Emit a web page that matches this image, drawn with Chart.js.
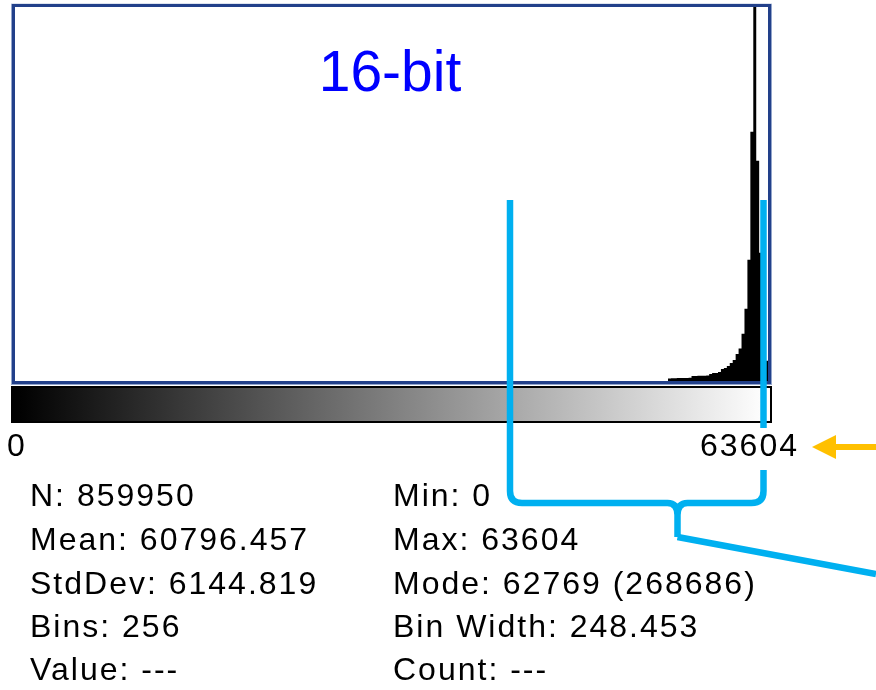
<!DOCTYPE html>
<html>
<head>
<meta charset="utf-8">
<title>16-bit histogram</title>
<script src="https://cdn.jsdelivr.net/npm/chart.js@4.4.1/dist/chart.umd.min.js"></script>
<style>
  html, body { margin: 0; padding: 0; background: #ffffff; }
  #wrap { width: 876px; height: 690px; position: relative; }
</style>
</head>
<body>
<div id="wrap"><canvas id="hist" width="876" height="690"></canvas></div>
<script>
// Histogram of a 16-bit image: 256 bins spanning 0 .. 63604
const nBins = 256;
const histMin = 0;
const histMax = 63604;

// Occupied bins (all lower bins are empty at this scale)
const binIndex = [222, 223, 224, 225, 226, 227, 228, 229, 230, 231, 232, 233, 234, 235, 236, 237, 238,
                  239, 240, 241, 242, 243, 244, 245, 246, 247, 248, 249, 250, 251, 252, 253, 254, 255];
const binCounts = [1400, 1400, 1500, 1500, 1600, 1600, 1700, 1700, 1800, 2700, 2700, 2800, 2800, 2900, 3000, 3800, 4300,
                   4400, 4900, 6500, 7100, 8200, 9800, 11400, 14700, 17700, 25800, 39400, 66100, 136000, 268686, 120200, 70000, 11000];

// Statistics panel
const statsLeft = ["N: 859950", "Mean: 60796.457", "StdDev: 6144.819", "Bins: 256", "Value: ---"];
const statsRight = ["Min: 0", "Max: 63604", "Mode: 62769 (268686)", "Bin Width: 248.453", "Count: ---"];
const rangeLabels = ["0", "63604"];
const title = "16-bit";

// Like ImageJ, scale to 1.5x the second-highest bin when the mode bin dominates
const sortedCounts = binCounts.slice().sort((a, b) => b - a);
const yMax = sortedCounts[1] * 1.5;

// Step outline: each bin starts at its left edge; the last bin closes at nBins
const stepPoints = binIndex.map((b, i) => ({ x: b, y: binCounts[i] }));
stepPoints.push({ x: nBins, y: binCounts[binCounts.length - 1] });

const FONT = '"Liberation Sans", Arial, sans-serif';

const overlay = {
  id: 'overlay',
  beforeDraw(chart) {
    const ctx = chart.ctx;
    ctx.save();
    ctx.fillStyle = '#ffffff';
    ctx.fillRect(0, 0, chart.width, chart.height);
    ctx.restore();
  },
  afterDraw(chart) {
    const ctx = chart.ctx;
    const xs = chart.scales.x;
    const left = xs.getPixelForValue(0);
    const right = xs.getPixelForValue(nBins);
    const area = chart.chartArea;
    ctx.save();

    // plot frame: light outer line + dark blue band
    ctx.strokeStyle = '#93a5cb';
    ctx.lineWidth = 1;
    ctx.strokeRect(left - 3.5, area.top - 2.8, right - left + 7, area.bottom - area.top + 6.3);
    ctx.strokeStyle = '#22408a';
    ctx.lineWidth = 3;
    ctx.strokeRect(left - 1.5, area.top - 1.5, right - left + 3, area.bottom - area.top + 3);

    // grey-scale LUT bar
    const barTop = 387, barH = 35;
    const g = ctx.createLinearGradient(left, 0, right, 0);
    g.addColorStop(0, '#000000');
    g.addColorStop(1, '#ffffff');
    ctx.fillStyle = g;
    ctx.fillRect(left - 4, barTop, right - left + 7, barH);
    ctx.strokeStyle = '#000000';
    ctx.lineWidth = 2;
    ctx.strokeRect(left - 3, barTop, right - left + 6, barH);

    // title
    ctx.fillStyle = '#0000ff';
    ctx.font = '57px ' + FONT;
    ctx.textAlign = 'center';
    ctx.textBaseline = 'alphabetic';
    ctx.fillText(title, 390, 91);

    // annotation bracket (drawn beneath the range label)
    ctx.strokeStyle = '#00b0f0';
    ctx.lineWidth = 6.5;
    ctx.lineCap = 'butt';
    ctx.lineJoin = 'round';
    const xl = 510, xr = 763.5, yh = 503, tipX = 677.5, tipY = 537;
    ctx.beginPath();
    ctx.moveTo(xr, 200);
    ctx.lineTo(xr, 428);
    ctx.stroke();
    ctx.beginPath();
    ctx.moveTo(xl, 200);
    ctx.lineTo(xl, yh - 12);
    ctx.quadraticCurveTo(xl, yh, xl + 12, yh);
    ctx.lineTo(tipX - 10, yh);
    ctx.quadraticCurveTo(tipX, yh, tipX, yh + 12);
    ctx.lineTo(tipX, tipY);
    ctx.moveTo(tipX, yh + 12);
    ctx.quadraticCurveTo(tipX, yh, tipX + 10, yh);
    ctx.lineTo(xr - 12, yh);
    ctx.quadraticCurveTo(xr, yh, xr, yh - 12);
    ctx.lineTo(xr, 470);
    ctx.stroke();
    ctx.beginPath();
    ctx.moveTo(tipX, tipY);
    ctx.lineTo(876, 574);
    ctx.stroke();

    // range labels under the LUT bar
    ctx.fillStyle = '#000000';
    ctx.font = '32px ' + FONT;
    ctx.letterSpacing = '2px';
    ctx.textAlign = 'left';
    ctx.fillText(rangeLabels[0], 7, 456);
    ctx.textAlign = 'right';
    ctx.fillText(rangeLabels[1], 799, 456);

    // statistics
    ctx.textAlign = 'left';
    const rows = [506, 550, 594, 637, 680];
    statsLeft.forEach((t, i) => ctx.fillText(t, 30, rows[i]));
    statsRight.forEach((t, i) => ctx.fillText(t, 393, rows[i]));
    ctx.letterSpacing = '0px';

    // orange pointer arrow
    ctx.strokeStyle = '#ffc000';
    ctx.fillStyle = '#ffc000';
    ctx.lineWidth = 6;
    ctx.beginPath();
    ctx.moveTo(876, 447);
    ctx.lineTo(832, 447);
    ctx.stroke();
    ctx.beginPath();
    ctx.moveTo(812, 447);
    ctx.lineTo(836, 435);
    ctx.lineTo(836, 459);
    ctx.closePath();
    ctx.fill();

    ctx.restore();
  }
};

new Chart(document.getElementById('hist'), {
  type: 'line',
  data: {
    datasets: [{
      data: stepPoints,
      stepped: 'after',
      fill: 'origin',
      backgroundColor: '#000000',
      borderColor: '#000000',
      borderWidth: 0,
      pointRadius: 0,
      tension: 0
    }]
  },
  options: {
    responsive: false,
    animation: false,
    events: [],
    layout: { padding: { left: 15, top: 7, right: 108, bottom: 309 } },
    plugins: { legend: { display: false }, tooltip: { enabled: false } },
    scales: {
      x: { type: 'linear', min: 0, max: nBins, display: false, offset: false },
      y: { min: 0, max: yMax, display: false }
    }
  },
  plugins: [overlay]
});
</script>
</body>
</html>
